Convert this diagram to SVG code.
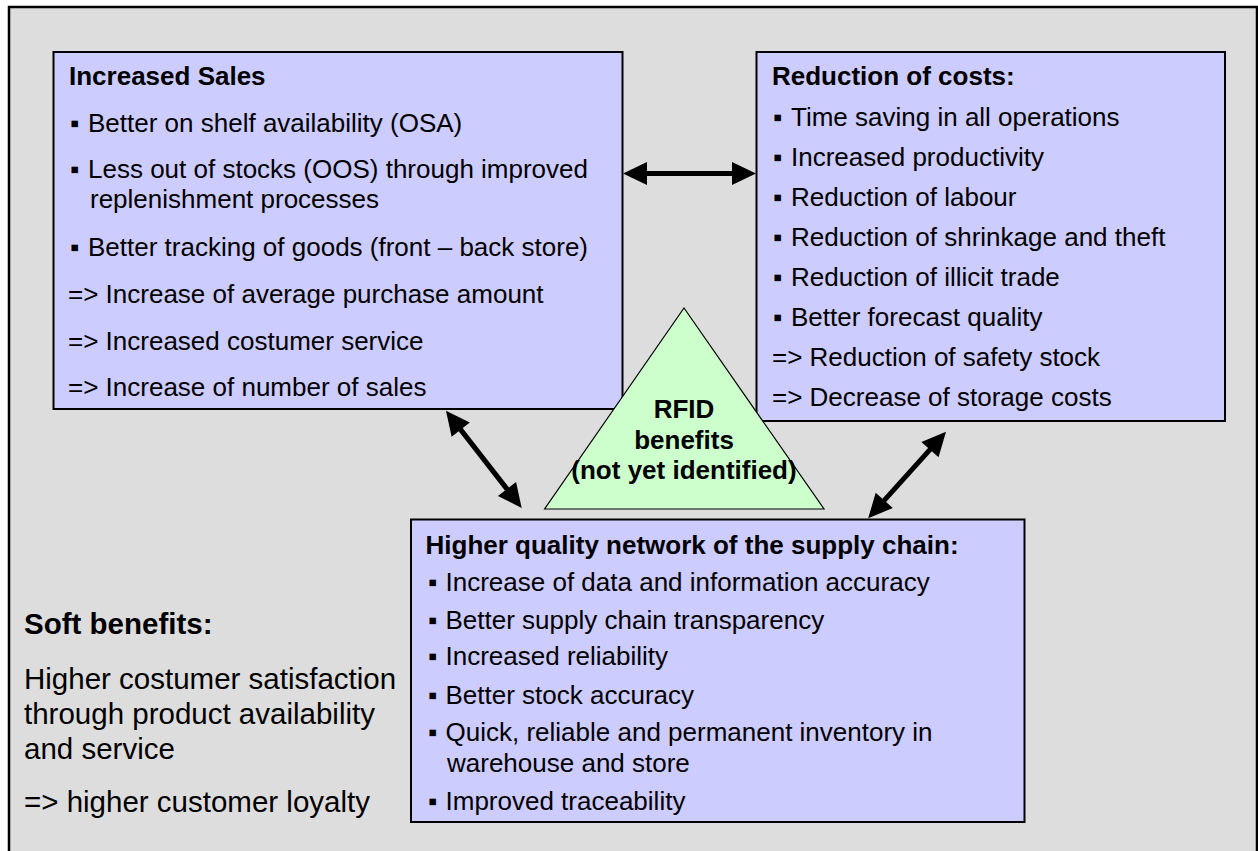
<svg xmlns="http://www.w3.org/2000/svg" width="1258" height="851" viewBox="0 0 1258 851">
<defs>
<style>
.t{font-family:"Liberation Sans",Arial,Helvetica,sans-serif;font-size:26px;fill:#000}
.h{font-weight:bold}
.s{font-size:29.5px}
.bu{font-size:26px}
.bx{fill:#CCCCFF;stroke:#000;stroke-width:2}
.tri{fill:#CCFFCC;stroke:#000;stroke-width:1.2}
.arr{stroke:#000;stroke-width:5;fill:none;marker-start:url(#ah);marker-end:url(#ah)}
</style>
<marker id="ah" markerUnits="userSpaceOnUse" markerWidth="24" markerHeight="23" refX="2" refY="11.5" orient="auto-start-reverse" overflow="visible">
<path d="M0,0 L24,11.5 L0,23 z" fill="#000"/>
</marker>
</defs>
<rect x="9" y="7" width="1248" height="900" fill="#DDDDDD" stroke="#000" stroke-width="2.5"/>

<g id="increased-sales">
<rect class="bx" x="53.5" y="52" width="569" height="357"/>
<text class="t h" x="69" y="85">Increased Sales</text>
<text class="t" x="70" y="131.7"><tspan class="bu">▪</tspan><tspan x="88">Better on shelf availability (OSA)</tspan></text>
<text class="t" x="70" y="178"><tspan class="bu">▪</tspan><tspan x="88">Less out of stocks (OOS) through improved</tspan></text>
<text class="t" x="90" y="208">replenishment processes</text>
<text class="t" x="70" y="256"><tspan class="bu">▪</tspan><tspan x="88">Better tracking of goods (front – back store)</tspan></text>
<text class="t" x="68" y="303">=&gt; Increase of average purchase amount</text>
<text class="t" x="68" y="350">=&gt; Increased costumer service</text>
<text class="t" x="68" y="396">=&gt; Increase of number of sales</text>
</g>

<g id="reduction-of-costs">
<rect class="bx" x="756.5" y="52" width="468.5" height="369"/>
<text class="t h" x="772" y="85">Reduction of costs:</text>
<text class="t" x="773" y="125.5"><tspan class="bu">▪</tspan><tspan x="791">Time saving in all operations</tspan></text>
<text class="t" x="773" y="165.5"><tspan class="bu">▪</tspan><tspan x="791">Increased productivity</tspan></text>
<text class="t" x="773" y="205.5"><tspan class="bu">▪</tspan><tspan x="791">Reduction of labour</tspan></text>
<text class="t" x="773" y="245.5"><tspan class="bu">▪</tspan><tspan x="791">Reduction of shrinkage and theft</tspan></text>
<text class="t" x="773" y="285.5"><tspan class="bu">▪</tspan><tspan x="791">Reduction of illicit trade</tspan></text>
<text class="t" x="773" y="325.5"><tspan class="bu">▪</tspan><tspan x="791">Better forecast quality</tspan></text>
<text class="t" x="772" y="366">=&gt; Reduction of safety stock</text>
<text class="t" x="772" y="406">=&gt; Decrease of storage costs</text>
</g>

<g id="supply-chain">
<rect class="bx" x="411" y="519.5" width="613.5" height="302.5"/>
<text class="t h" x="425.5" y="553.5">Higher quality network of the supply chain:</text>
<text class="t" x="428" y="591"><tspan class="bu">▪</tspan><tspan x="445.5">Increase of data and information accuracy</tspan></text>
<text class="t" x="428" y="628.5"><tspan class="bu">▪</tspan><tspan x="445.5">Better supply chain transparency</tspan></text>
<text class="t" x="428" y="665"><tspan class="bu">▪</tspan><tspan x="445.5">Increased reliability</tspan></text>
<text class="t" x="428" y="703.5"><tspan class="bu">▪</tspan><tspan x="445.5">Better stock accuracy</tspan></text>
<text class="t" x="428" y="741"><tspan class="bu">▪</tspan><tspan x="445.5">Quick, reliable and permanent inventory in</tspan></text>
<text class="t" x="447" y="772">warehouse and store</text>
<text class="t" x="428" y="810"><tspan class="bu">▪</tspan><tspan x="445.5">Improved traceability</tspan></text>
</g>

<g id="soft-benefits">
<text class="t s h" x="24" y="634">Soft benefits:</text>
<text class="t s" x="24" y="689">Higher costumer satisfaction</text>
<text class="t s" x="24" y="724">through product availability</text>
<text class="t s" x="24" y="759">and service</text>
<text class="t s" x="24" y="812">=&gt; higher customer loyalty</text>
</g>

<g id="connectors">
<line class="arr" x1="645" y1="173.5" x2="734" y2="173.5"/>
<line class="arr" x1="459.5" y1="428.1" x2="508.2" y2="490.6"/>
<line class="arr" x1="931.3" y1="448.1" x2="882.9" y2="501.9"/>
</g>

<g id="rfid-benefits">
<polygon class="tri" points="684,308 824,509 544.6,509"/>
<text class="t h" x="684" y="418" text-anchor="middle">RFID</text>
<text class="t h" x="684" y="449" text-anchor="middle">benefits</text>
<text class="t h" x="684" y="479" text-anchor="middle">(not yet identified)</text>
</g>
</svg>
